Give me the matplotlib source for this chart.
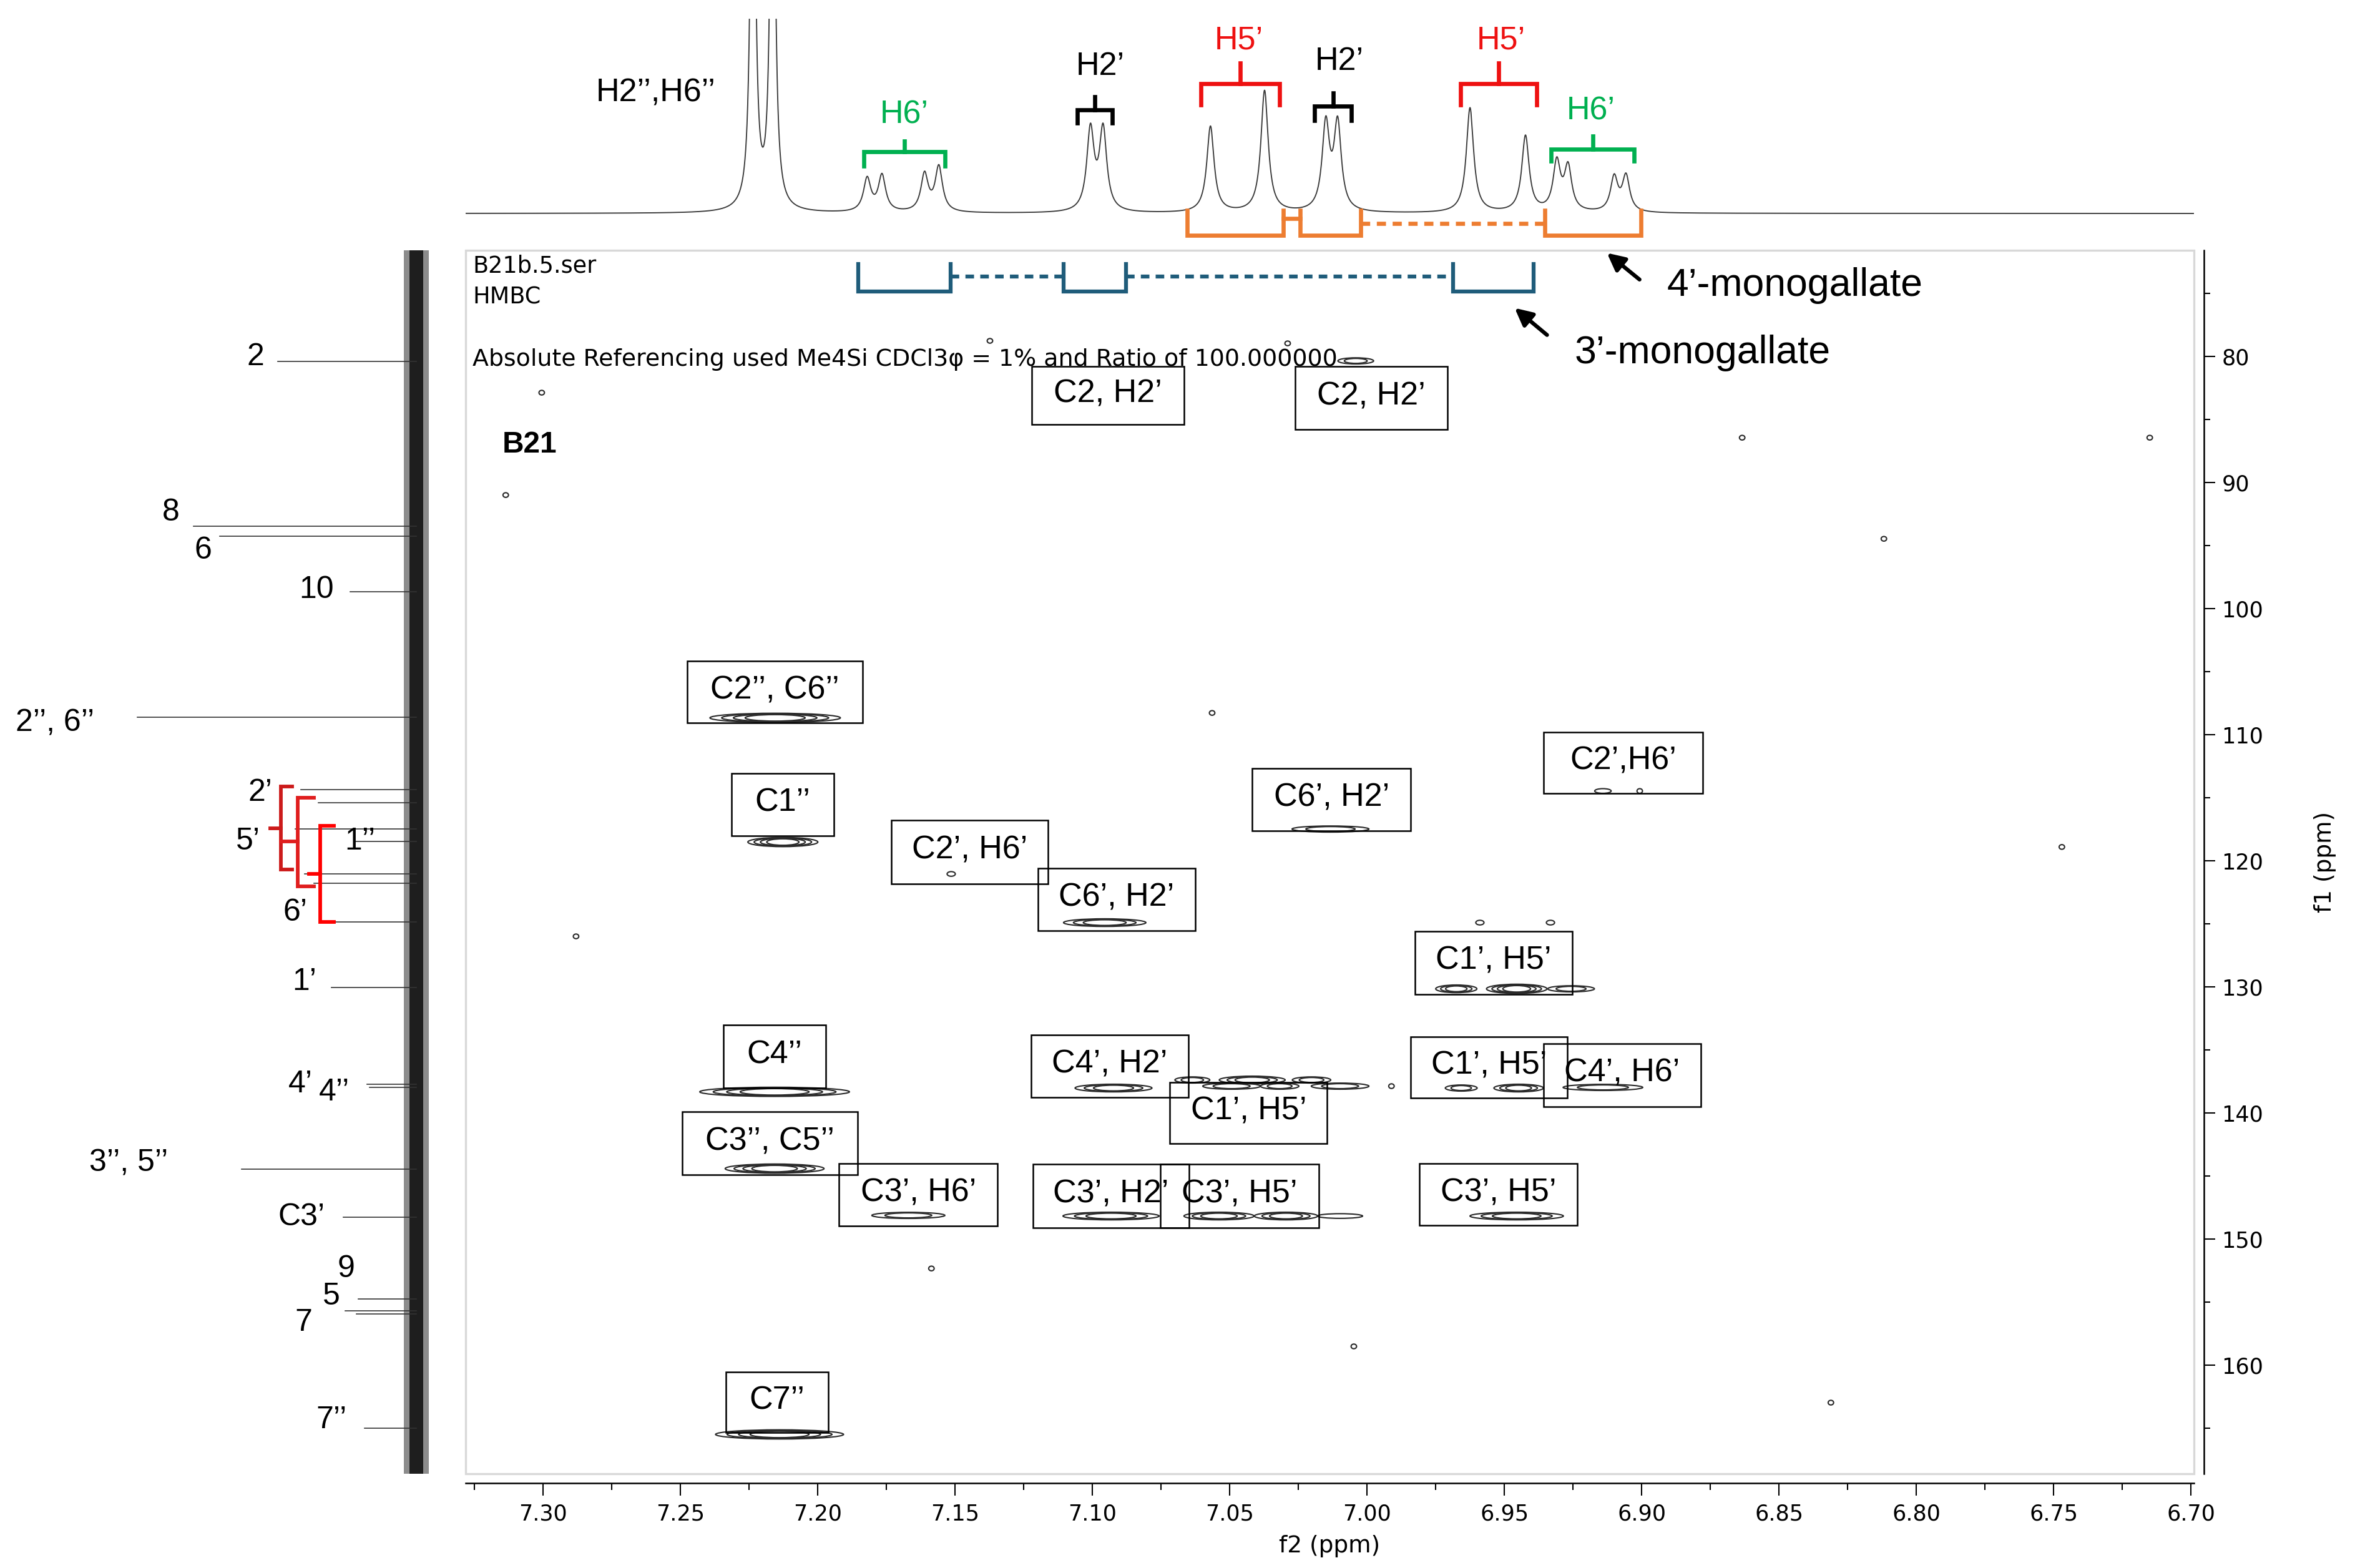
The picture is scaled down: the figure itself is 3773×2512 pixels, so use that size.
import numpy as np
import matplotlib.pyplot as plt
from matplotlib.patches import Ellipse, Rectangle
from matplotlib.ticker import MultipleLocator, FormatStrFormatter

W, H, DPI = 3773, 2512, 300

# 1H projection (f2): shift ppm, amplitude, half width ppm
h_shift = [7.2236, 7.2164, 7.1820, 7.1766, 7.1611, 7.1559, 7.1007, 7.0961,
           7.0570, 7.0373, 7.0150, 7.0107, 6.9625, 6.9423, 6.9309, 6.9268,
           6.9100, 6.9057]
h_amp = [900, 900, 53, 58, 60, 72, 130, 130, 138, 195, 138, 138, 168, 122,
         78, 70, 55, 57]
h_hw = [0.0009, 0.0009] + [0.0016] * 16

# 13C projection (f1): shift ppm, peak length
c_shift = [80.40, 93.47, 94.26, 98.66, 108.61, 114.36, 115.40, 117.48, 118.47,
           121.04, 121.78, 124.85, 130.05, 137.72, 137.97, 144.46, 148.27,
           154.75, 155.69, 155.95, 165.0]
c_len = [222, 357, 315, 106, 447, 185, 157, 194, 97, 179, 164, 132, 136, 79,
         75, 280, 117, 93, 114, 96, 83]

# HMBC cross peaks: f2 ppm, f1 ppm, f2 spread, contour levels
xp_h = [7.2155, 7.2127, 7.1514, 7.0955, 7.0133, 6.9141, 6.9007, 6.9589, 6.9332,
        6.9675, 6.9455, 6.9257, 7.2157, 7.0923, 7.0636, 7.0418, 7.0202, 7.0493,
        7.0318, 7.0098, 6.9911, 6.9657, 6.9448, 6.9141, 7.2157, 7.1670, 7.0932,
        7.0539, 7.0295, 7.0098, 6.9455, 7.2139, 7.0041,
        7.3136, 7.3005, 7.0564, 6.8634, 6.7150, 6.7470, 6.8311, 7.0048, 7.1586,
        6.8118, 7.2880, 7.1373, 7.0289]
xp_c = [108.66, 118.51, 121.04, 124.90, 117.48, 114.46, 114.46, 124.90, 124.90,
        130.15, 130.15, 130.15, 138.32, 138.02, 137.38, 137.38, 137.38, 137.87,
        137.87, 137.87, 137.87, 138.02, 138.02, 137.97, 144.41, 148.12, 148.17,
        148.17, 148.17, 148.17, 148.17, 165.49, 80.35,
        90.99, 82.87, 108.27, 86.44, 86.44, 118.90, 162.97, 158.51, 152.33,
        94.46, 125.99, 78.76, 78.96]
xp_w = [0.0475, 0.0255, 0.003, 0.030, 0.028, 0.006, 0.002, 0.003, 0.003,
        0.015, 0.022, 0.017, 0.0545, 0.028, 0.0127, 0.024, 0.014, 0.021,
        0.014, 0.021, 0.002, 0.0116, 0.018, 0.029, 0.036, 0.0266, 0.035,
        0.0255, 0.023, 0.0164, 0.034, 0.0466, 0.013] + [0.002] * 13
xp_n = [4, 4, 1, 3, 2, 1, 1, 1, 1, 3, 4, 2, 4, 3, 2, 3, 2, 2, 2, 2, 1, 2, 3, 2,
        4, 2, 3, 3, 3, 1, 3, 4, 2] + [1] * 13

# labelled boxes: text, f2 left, f2 right, f1 top, f1 bottom
boxes = [
    ("C2’’, C6’’", 7.2475, 7.1836, 104.16, 109.06),
    ("C1’’", 7.2314, 7.1941, 113.07, 118.02),
    ("C2’, H6’", 7.1732, 7.1161, 116.78, 121.83),
    ("C6’, H2’", 7.1198, 7.0625, 120.59, 125.54),
    ("C6’, H2’", 7.0418, 6.9841, 112.67, 117.62),
    ("C2’,H6’", 6.9357, 6.8777, 109.80, 114.65),
    ("C1’, H5’", 6.9825, 6.9252, 125.59, 130.59),
    ("C4’’", 7.2343, 7.1970, 133.02, 138.02),
    ("C4’, H2’", 7.1223, 7.0650, 133.81, 138.76),
    ("C1’, H5’", 7.0718, 7.0145, 137.57, 142.43),
    ("C1’, H5’", 6.9841, 6.9270, 133.96, 138.81),
    ("C4’, H6’", 6.9357, 6.8784, 134.50, 139.50),
    ("C3’’, C5’’", 7.2493, 7.1855, 139.90, 144.90),
    ("C3’, H6’", 7.1923, 7.1345, 144.01, 148.96),
    ("C3’, H2’", 7.1216, 7.0648, 144.06, 149.11),
    ("C3’, H5’", 7.0752, 7.0175, 144.06, 149.11),
    ("C3’, H5’", 6.9809, 6.9234, 144.01, 148.91),
    ("C7’’", 7.2334, 7.1961, 160.54, 165.35),
    ("C2, H2’", 7.1220, 7.0666, 80.79, 85.40),
    ("C2, H2’", 7.0261, 6.9707, 80.79, 85.79),
]

# 13C side labels: text, length position, f1 ppm
c_labels = [("2", 258, 80.05), ("8", 393, 92.38), ("6", 342, 95.40),
            ("10", 160, 98.51), ("2’’, 6’’", 579, 109.1), ("2’", 250, 114.6),
            ("5’", 270, 118.47), ("1’’", 90, 118.47), ("6’", 194, 124.1),
            ("1’", 179, 129.6), ("4’", 186, 137.72), ("4’’", 131, 138.37),
            ("3’’, 5’’", 461, 144.0), ("C3’", 184, 148.27), ("9", 112, 152.38),
            ("5", 136, 154.55), ("7", 181, 156.63), ("7’’", 136, 164.36)]

XL = (7.3282, 6.6989)
YL = (168.61, 71.58)

fig = plt.figure(figsize=(W / DPI, H / DPI), dpi=DPI)


def px_box(x0, y0, x1, y1):
    return [x0 / W, 1 - y1 / H, (x1 - x0) / W, (y1 - y0) / H]


ax = fig.add_axes(px_box(746, 401, 3515, 2361))
top = fig.add_axes(px_box(746, 30, 3515, 400))
side = fig.add_axes(px_box(0, 401, 746, 2361))

# ---------- main HMBC panel
ax.set_xlim(*XL)
ax.set_ylim(*YL)
for s in ("top", "left"):
    ax.spines[s].set_visible(False)
ax.spines["bottom"].set_position(("outward", 3.5))
ax.spines["right"].set_position(("outward", 3.8))
for s in ("bottom", "right"):
    ax.spines[s].set_linewidth(0.6)
ax.add_patch(Rectangle((0, 0), 1, 1, transform=ax.transAxes, fill=False,
                       edgecolor="#d8d8d8", lw=0.8, clip_on=False))
ax.yaxis.tick_right()
ax.xaxis.set_major_locator(MultipleLocator(0.05))
ax.xaxis.set_minor_locator(MultipleLocator(0.025))
ax.xaxis.set_major_formatter(FormatStrFormatter("%.2f"))
ax.yaxis.set_major_locator(MultipleLocator(10))
ax.yaxis.set_minor_locator(MultipleLocator(5))
ax.tick_params(axis="x", which="major", length=4.8, width=0.5, pad=3, labelsize=8.4)
ax.tick_params(axis="x", which="minor", length=2.6, width=0.5)
ax.tick_params(axis="y", which="major", length=4.3, width=0.5, pad=2.6, labelsize=8.4)
ax.tick_params(axis="y", which="minor", length=2.4, width=0.5)

for h, c, w, n in zip(xp_h, xp_c, xp_w, xp_n):
    hgt = 0.25 + 0.12 * n
    for k in range(n):
        s = 1 - 0.72 * k / n
        ax.add_patch(Ellipse((h, c), w * s, hgt * (1 - 0.4 * k / n), fill=False,
                             edgecolor="#2a2a2a", lw=0.5))

for lab, x0, x1, y0, y1 in boxes:
    ax.add_patch(Rectangle((x1, y0), x0 - x1, y1 - y0, fill=False,
                           edgecolor="black", lw=0.6))
    ax.text((x0 + x1) / 2, y0 + 0.47 * (y1 - y0), lab, ha="center", va="center",
            fontsize=12.5, family="Liberation Sans")

# 3'-monogallate blue brackets
blue = "#1f5c7a"
for x0, x1 in [(7.1852, 7.1516), (7.1105, 7.0877), (6.9686, 6.9393)]:
    ax.plot([x0, x0, x1, x1], [72.67, 74.85, 74.85, 72.67], color=blue, lw=1.5,
            solid_joinstyle="miter", clip_on=False)
for x0, x1 in [(7.1516, 7.1105), (7.0877, 6.9686)]:
    ax.plot([x0, x1], [73.66, 73.66], color=blue, lw=1.5, ls=(0, (2.2, 1.6)))

ax.annotate("", xy=(6.9141, 71.53), xytext=(6.8993, 74.16),
            arrowprops=dict(arrowstyle="-|>", color="black", lw=1.5,
                            mutation_scale=14), annotation_clip=False)
ax.annotate("", xy=(6.9477, 75.89), xytext=(6.9330, 78.56),
            arrowprops=dict(arrowstyle="-|>", color="black", lw=1.5,
                            mutation_scale=14), annotation_clip=False)
ax.text(6.8909, 74.36, "4’-monogallate", ha="left", va="center", fontsize=15,
        family="Liberation Sans")
ax.text(6.9245, 79.70, "3’-monogallate", ha="left", va="center", fontsize=15,
        family="Liberation Sans")

fig.text(757 / W, 1 - 426 / H, "B21b.5.ser", fontsize=8.8, va="center")
fig.text(757 / W, 1 - 476 / H, "HMBC", fontsize=8.8, va="center")
fig.text(757 / W, 1 - 576 / H,
         "Absolute Referencing used Me4Si CDCl3φ = 1% and Ratio of 100.000000",
         fontsize=9.1, va="center")
fig.text(805 / W, 1 - 712 / H, "B21", fontsize=11.5, fontweight="bold",
         family="Liberation Sans", va="center")
fig.text(2130 / W, 1 - 2477 / H, "f2 (ppm)", fontsize=9, ha="center", va="center")
fig.text(3725 / W, 1 - 1381 / H, "f1 (ppm)", fontsize=9, ha="center",
         va="center", rotation=90)

# ---------- 1H projection
top.set_xlim(*XL)
top.set_ylim(-58, 312)
top.axis("off")
xs = np.linspace(6.69, 7.34, 8000)
spec = np.zeros_like(xs)
for x0, a, g in zip(h_shift, h_amp, h_hw):
    spec += a * g ** 2 / ((xs - x0) ** 2 + g ** 2)
top.plot(xs, spec, color="#3a3a3a", lw=0.45)

green, red, orange = "#00b050", "#ee1111", "#ed7d31"


def brace(a, x0, x1, ybar, yfoot, ystem, color):
    a.plot([x0, x0, x1, x1], [yfoot, ybar, ybar, yfoot], color=color, lw=1.6,
           solid_joinstyle="miter")
    xm = (x0 + x1) / 2
    a.plot([xm, xm], [ybar, ystem], color=color, lw=1.6)


brace(top, 7.1832, 7.1536, 99, 76, 116, green)
brace(top, 7.1055, 7.0927, 166, 145, 187, "black")
brace(top, 7.0605, 7.0318, 208, 174, 241, red)
brace(top, 7.0191, 7.0057, 172, 149, 193, "black")
brace(top, 6.9659, 6.9382, 208, 174, 241, red)
brace(top, 6.9330, 6.9027, 103, 84, 124, green)
for t, x, y, col in [("H6’", 7.1684, 158, green), ("H2’", 7.0970, 235, "black"),
                     ("H5’", 7.0466, 277, red), ("H2’", 7.0100, 244, "black"),
                     ("H5’", 6.9511, 277, red), ("H6’", 6.9184, 164, green),
                     ("H2’’,H6’’", 7.2589, 193, "black")]:
    top.text(x, y, t, color=col, ha="center", va="center", fontsize=12.5,
             family="Liberation Sans")

for x0, x1 in [(7.0655, 7.0305), (7.0243, 7.0023), (6.9352, 6.9002)]:
    top.plot([x0, x0, x1, x1], [5, -35, -35, 5], color=orange, lw=1.6,
             solid_joinstyle="miter")
top.plot([7.0305, 7.0243], [-8, -8], color=orange, lw=1.6)
top.plot([7.0023, 6.9352], [-16, -16], color=orange, lw=1.6, ls=(0, (2.2, 1.6)))

# ---------- 13C projection (noise drawn as a band)
side.set_ylim(*YL)
side.set_xlim(667, -79)
side.axis("off")
side.fill_betweenx([YL[1], YL[0]], -20, 20, color="#8c8c8c", lw=0)
side.fill_betweenx([YL[1], YL[0]], -11, 11, color="#1e1e1e", lw=0)
for c, l in zip(c_shift, c_len):
    side.plot([0, l], [c, c], color="#333333", lw=0.4)
for t, x, y in c_labels:
    side.text(x, y, t, ha="center", va="center", fontsize=12,
              family="Liberation Sans")


def side_bracket(xv, y0, y1, xa, xt, yt, color):
    side.plot([xa, xv, xv, xa], [y0, y0, y1, y1], color=color, lw=1.4,
              solid_joinstyle="miter")
    side.plot([xt, xv], [yt, yt], color=color, lw=1.4)


side_bracket(217, 114.11, 120.69, 199, 234, 117.43, "#cc1a1a")
side_bracket(190, 115.00, 122.03, 164, 217, 118.47, "#e01e1e")
side_bracket(154, 117.23, 124.85, 132, 172, 121.04, "#ff0000")

fig.savefig("out.png", dpi=DPI)
